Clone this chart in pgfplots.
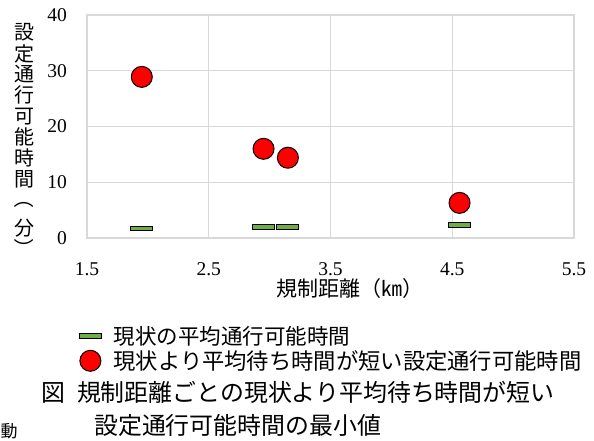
\documentclass[border=0pt]{standalone}
\usepackage{pgfplots}
\pgfplotsset{compat=1.18}
\usepackage{fontspec}
\setmainfont{Liberation Serif}
\newfontfamily\cjk{Noto Sans CJK JP}
\definecolor{gridgray}{HTML}{D9D9D9}
\definecolor{mygreen}{HTML}{70AD47}
\definecolor{myred}{HTML}{FF0000}
\begin{document}
\begin{tikzpicture}
\useasboundingbox (0,0) rectangle (594pt,440pt);
\begin{axis}[
  at={(87pt,202pt)}, anchor=south west,
  width=487pt, height=223pt, scale only axis,
  xmin=1.5, xmax=5.5, ymin=0, ymax=40,
  xtick={1.5,2.5,3.5,4.5,5.5}, ytick={0,10,20,30,40},
  grid=major, grid style={draw=gridgray, line width=1.3pt},
  axis line style={draw=gridgray, line width=1.5pt},
  major tick length=0pt, tick style={draw=none},
  /pgf/number format/assume math mode=true,
  xticklabel style={font=\fontsize{19.5}{19.5}\selectfont, anchor=base, inner sep=0pt, yshift=-37pt, /pgf/number format/fixed, /pgf/number format/fixed zerofill, /pgf/number format/precision=1},
  yticklabel style={font=\fontsize{19.5}{19.5}\selectfont, anchor=east, inner sep=0pt, xshift=-20pt},
  clip=false,
  legend style={draw=none, fill=none, at={(axis description cs:-0.0226,-0.3767)}, anchor=north west,
    row sep=0pt, column sep=0pt,
    nodes={inner sep=0pt}},
  legend cell align=left,
  legend image code/.code={\draw[mark repeat=2,mark phase=2,#1] plot coordinates {(0pt,0pt)(10pt,0pt)(20pt,0pt)}; \path (-1pt,-12pt) (33pt,12pt);},
]
\addplot[only marks, mark=square*, mark size=11pt, mark options={fill=mygreen, draw=black, line width=1pt, yscale=0.22}]
  coordinates {(1.95,1.7) (2.95,1.9) (3.15,2.0) (4.56,2.3)};
\addlegendentry{\cjk\fontsize{21.5}{21.5}\selectfont 現状の平均通行可能時間}
\addplot[only marks, mark=*, mark size=10.5pt, mark options={fill=myred, draw=black, line width=1pt}]
  coordinates {(1.95,28.9) (2.95,16.0) (3.15,14.4) (4.56,6.3)};
\addlegendentry{\cjk\fontsize{22.3}{22.3}\selectfont 現状より平均待ち時間が短い設定通行可能時間}
\end{axis}
\node[font=\cjk\fontsize{21}{21}\selectfont, inner sep=0pt] at (350pt,151.5pt) {規制距離（㎞）};
\foreach \ch/\yy in {設/32.7, 定/53.6, 通/74.5, 行/95.4, 可/116.3, 能/137.2, 時/158.1, 間/179, 分/228}
  \node[font=\cjk\fontsize{20}{20}\selectfont, inner sep=0pt] at (24pt,{(440-\yy)*1pt}) {\ch};
\node[font=\cjk\fontsize{20}{20}\selectfont, inner sep=0pt, rotate=-90] at (24pt,{(440-198)*1pt}) {（};
\node[font=\cjk\fontsize{20}{20}\selectfont, inner sep=0pt, rotate=-90] at (24pt,{(440-248)*1pt}) {）};
\node[anchor=west, inner sep=0pt, font=\cjk\fontsize{23.9}{23.9}\selectfont] at (41pt,48pt) {図\hspace{12pt}規制距離ごとの現状より平均待ち時間が短い};
\node[anchor=west, inner sep=0pt, font=\cjk\fontsize{23.9}{23.9}\selectfont] at (94pt,15pt) {設定通行可能時間の最小値};
\node[anchor=south west, inner sep=0pt, font=\cjk\fontsize{17}{17}\selectfont] at (0.5pt,1pt) {動};
\end{tikzpicture}
\end{document}
